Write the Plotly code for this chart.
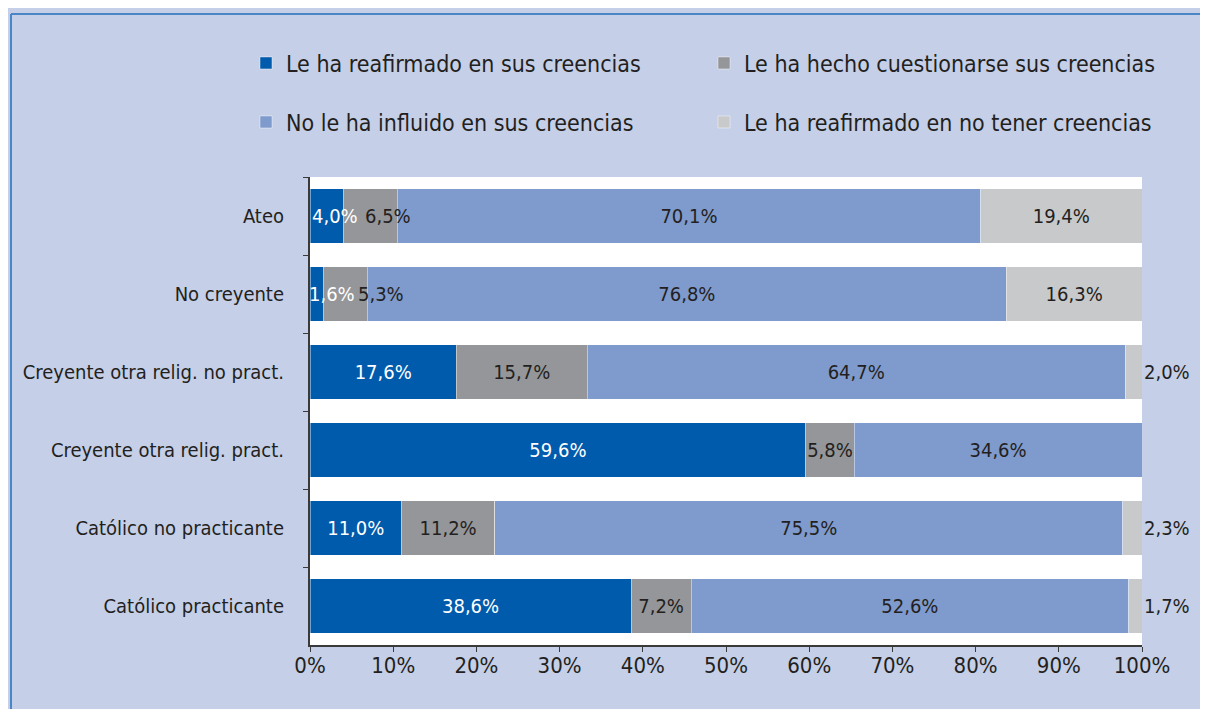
import plotly.graph_objects as go

categorias = ["Ateo", "No creyente", "Creyente otra relig. no pract.",
              "Creyente otra relig. pract.", "Católico no practicante", "Católico practicante"]

reafirmado = [4.0, 1.6, 17.6, 59.6, 11.0, 38.6]
cuestionarse = [6.5, 5.3, 15.7, 5.8, 11.2, 7.2]
no_influido = [70.1, 76.8, 64.7, 34.6, 75.5, 52.6]
no_creencias = [19.4, 16.3, 2.0, 0.0, 2.3, 1.7]

nombres = ["Le ha reafirmado en sus creencias", "Le ha hecho cuestionarse sus creencias",
           "No le ha influido en sus creencias", "Le ha reafirmado en no tener creencias"]
colores = ["#005bac", "#959699", "#7f9acc", "#c8c9cb"]
FONT = "DejaVu Sans Condensed, Liberation Sans Narrow, sans-serif"
OSCURO = "#231f20"


def etiqueta(v):
    return (f"{v:.1f}".replace(".", ",") + "%") if v > 0 else ""


# filas con segmentos iniciales muy estrechos: etiquetas desplazadas a mano
desplazadas = {"Ateo": (0, 20), "No creyente": (-3, 33)}

fig = go.Figure()
series = [reafirmado, cuestionarse, no_influido, no_creencias]
for i, (vals, nom, col) in enumerate(zip(series, nombres, colores)):
    textos = []
    for cat, v in zip(categorias, vals):
        if (i < 2 and cat in desplazadas) or (i == 3 and v <= 10):
            textos.append("")
        else:
            textos.append(etiqueta(v))
    fig.add_trace(go.Bar(
        y=categorias, x=vals, name=nom, orientation="h",
        marker=dict(color=col, line=dict(width=0.8, color="rgba(255,255,255,0.55)")),
        text=textos, textposition="inside", textangle=0,
        insidetextanchor="middle", constraintext="none",
        textfont=dict(family=FONT, size=20, color="white" if i == 0 else OSCURO),
        cliponaxis=False, showlegend=True,
        legend="legend" if i == 0 else f"legend{i + 1}",
    ))

# etiquetas de los segmentos estrechos del principio
for cat, v1, v2 in zip(categorias, reafirmado, cuestionarse):
    if cat in desplazadas:
        s1, s2 = desplazadas[cat]
        fig.add_annotation(x=0, y=cat, text=etiqueta(v1), showarrow=False, xanchor="left",
                           xshift=s1, font=dict(family=FONT, size=20, color="white"))
        fig.add_annotation(x=v1, y=cat, text=etiqueta(v2), showarrow=False, xanchor="left",
                           xshift=s2, font=dict(family=FONT, size=20, color=OSCURO))

# etiquetas pequeñas fuera de la barra (derecha)
for cat, v in zip(categorias, no_creencias):
    if 0 < v <= 10:
        fig.add_annotation(x=100, y=cat, text=etiqueta(v), showarrow=False,
                           xanchor="left", xshift=0,
                           font=dict(family=FONT, size=20, color=OSCURO))

leg = dict(orientation="h", xref="container", yref="container", xanchor="left",
           yanchor="middle", bgcolor="rgba(0,0,0,0)",
           font=dict(family=FONT, size=23, color=OSCURO))
col_x = [238 / 1208, 696 / 1208]
fila_y = [1 - 55 / 709, 1 - 114 / 709]

# marco azul (solo borde izquierdo y superior visibles)
x_marco = (3 - 302) / 832
y_marco = (637 - 6) / 468
marco = dict(color="#4a86c5", width=2)

fig.update_layout(
    barmode="stack", bargap=0.3, showlegend=True,
    width=1208, height=709,
    margin=dict(l=302, r=74, t=169, b=72),
    paper_bgcolor="#c5cfe7", plot_bgcolor="white",
    font=dict(family=FONT, size=19, color=OSCURO),
    legend=dict(leg, x=col_x[0], y=fila_y[0]),
    legend2=dict(leg, x=col_x[1], y=fila_y[0]),
    legend3=dict(leg, x=col_x[0], y=fila_y[1]),
    legend4=dict(leg, x=col_x[1], y=fila_y[1]),
    xaxis=dict(range=[0, 100], tickvals=list(range(0, 101, 10)),
               ticktext=[f"{t}%" for t in range(0, 101, 10)], automargin=False,
               showgrid=False, zeroline=False, showline=True, linecolor="#3a3a3a", linewidth=2,
               ticks="outside", ticklen=5, tickcolor="#3a3a3a", ticklabelstandoff=-5,
               tickfont=dict(family=FONT, size=22, color=OSCURO)),
    yaxis=dict(autorange="reversed", showgrid=False, showline=True, linecolor="#3a3a3a",
               linewidth=2, ticks="outside", ticklen=5, tickcolor="#3a3a3a",
               tickson="boundaries", automargin=False, ticklabelstandoff=20,
               tickfont=dict(family=FONT, size=20, color=OSCURO)),
    shapes=[
        dict(type="line", xref="paper", yref="paper", x0=x_marco, x1=x_marco,
             y0=-0.3, y1=y_marco, line=marco, layer="below"),
        dict(type="line", xref="paper", yref="paper", x0=x_marco, x1=1.3,
             y0=y_marco, y1=y_marco, line=marco, layer="below"),
    ],
)

fig.write_html("out.html")
